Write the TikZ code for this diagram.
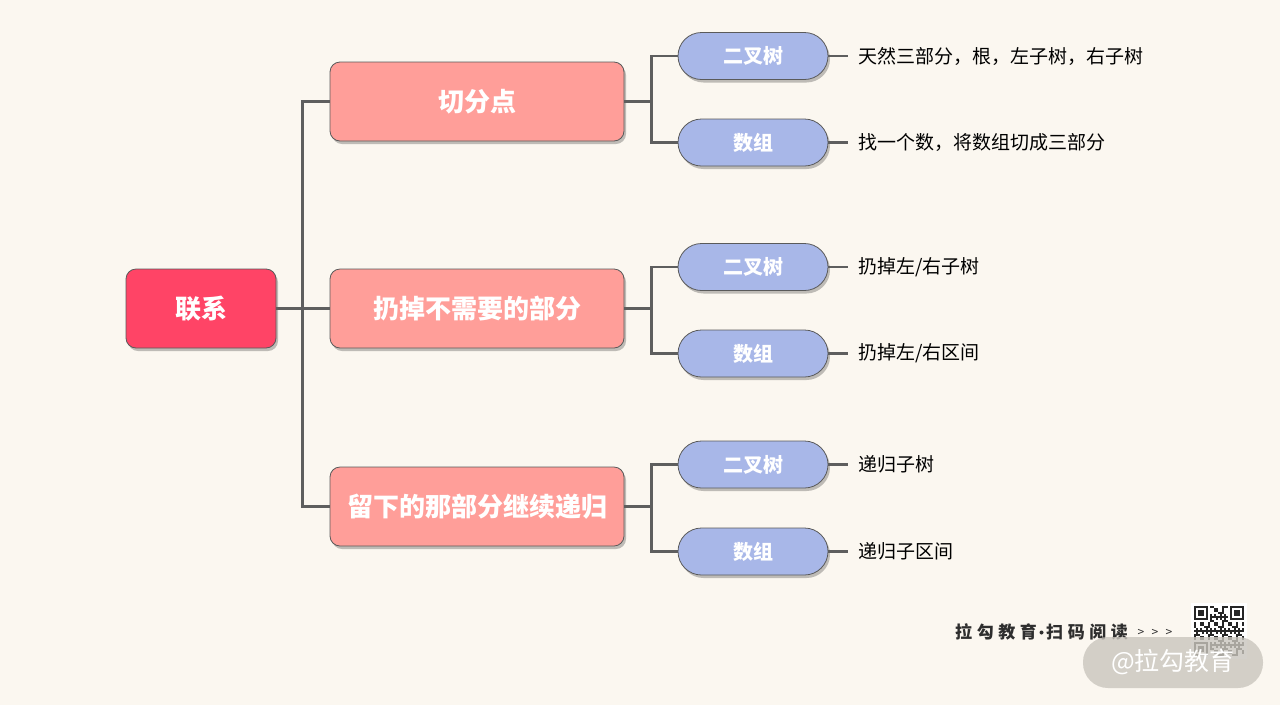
\documentclass[tikz,border=0pt]{standalone}
\usepackage{fontspec}
\setmainfont{Noto Sans CJK SC}
\usetikzlibrary{shadows}
\definecolor{bg}{HTML}{FBF7F0}
\definecolor{rootc}{HTML}{FF4466}
\definecolor{midc}{HTML}{FF9E99}
\definecolor{pillc}{HTML}{A8B7E8}
\definecolor{bordc}{HTML}{5A5A5A}
\definecolor{connc}{HTML}{5E5E5E}
\definecolor{wmgray}{HTML}{C9C5BD}
\definecolor{wmtext}{HTML}{2E2E2E}
\begin{document}
\begin{tikzpicture}[x=1pt,y=-1pt,
  box/.style={draw=bordc, line width=0.8pt, rounded corners=10pt, inner sep=0pt,
    drop shadow={shadow xshift=2pt,shadow yshift=-3pt,opacity=0.3,fill=black!80}},
  rootbox/.style={box, fill=rootc, minimum width=150pt, minimum height=79pt, text=white,
    font=\fontsize{26}{30}\selectfont\bfseries},
  midbox/.style={box, fill=midc, minimum width=294pt, minimum height=79pt, text=white,
    font=\fontsize{26}{30}\selectfont\bfseries},
  pill/.style={box, rounded corners=23.5pt, fill=pillc, minimum width=150pt, minimum height=47pt,
    text=white, font=\fontsize{20}{24}\selectfont\bfseries},
  leaf/.style={anchor=west, inner sep=0pt, text=black, font=\fontsize{19}{22}\selectfont},
  conn/.style={draw=connc, line width=2.6pt},
  wmt/.style={anchor=west, inner sep=0pt, text=wmtext,
    font=\fontsize{17}{20}\selectfont\bfseries\addfontfeature{LetterSpace=27}},
  wma/.style={inner sep=0pt, text=wmtext, font=\fontsize{12}{14}\selectfont},
  qrmod/.style={fill=black!85}
]
\fill[bg] (0,0) rectangle (1280,705);
\useasboundingbox (0,0) rectangle (1280,705);

% root and middle
\node[rootbox] (root) at (201,308.5) {联系};
\node[midbox] (m1) at (477,101.5) {切分点};
\node[midbox] (m2) at (477,308.5) {扔掉不需要的部分};
\node[midbox] (m3) at (477,506.5) {留下的那部分继续递归};

% pills
\node[pill] (p1) at (753,56) {二叉树};
\node[pill] (p2) at (753,142.5) {数组};
\node[pill] (p3) at (753,267) {二叉树};
\node[pill] (p4) at (753,353.5) {数组};
\node[pill] (p5) at (753,464.5) {二叉树};
\node[pill] (p6) at (753,551.5) {数组};

% leaf labels
\node[leaf] (l1) at (858,56) {天然三部分，根，左子树，右子树};
\node[leaf] (l2) at (858,142.5) {找一个数，将数组切成三部分};
\node[leaf] (l3) at (858,267) {扔掉左/右子树};
\node[leaf] (l4) at (858,353.5) {扔掉左/右区间};
\node[leaf] (l5) at (858,464.5) {递归子树};
\node[leaf] (l6) at (858,551.5) {递归子区间};

% connectors root -> middle
\draw[conn] (root.east) -- (m2.west);
\draw[conn] (m1.west) -- ++(-27,0) |- (m3.west);

% middle -> pills
\draw[conn] (m1.east) -- ++(28,0);
\draw[conn] (p1.west) -- ++(-26,0) |- (p2.west);
\draw[conn] (m2.east) -- ++(28,0);
\draw[conn] (p3.west) -- ++(-26,0) |- (p4.west);
\draw[conn] (m3.east) -- ++(28,0);
\draw[conn] (p5.west) -- ++(-26,0) |- (p6.west);

% pills -> leaves
\foreach \a/\b in {p1/l1,p2/l2,p3/l3,p4/l4,p5/l5,p6/l6}
  \draw[conn, shorten >=10pt] (\a.east) -- (\b.west);

% watermark
\node[wmt] (wm1) at (955,632) {拉勾教育};
\fill[wmtext] (1041.5,632.5) circle (2pt);
\node[wmt] (wm2) at (1046,632) {扫码阅读};
\node[wma] (a1) at (1141,633) {>};
\node[wma] (a2) at (1155,633) {>};
\node[wma] (a3) at (1169,633) {>};

% QR code (schematic)
\fill[white] (1191,603) rectangle (1247,659);
\begin{scope}[shift={(1194,606)}]
  \foreach \i in {0,...,24} {
    \foreach \j in {0,...,24} {
      \pgfmathtruncatemacro\v{mod(\i*\i*7+\j*\j*3+\i*\j*11+\i+5*\j,7)}
      \pgfmathtruncatemacro\inf{((\i<8)&&(\j<8)) || ((\i>16)&&(\j<8)) || ((\i<8)&&(\j>16))}
      \ifnum\inf=0 \ifnum\v<3 \fill[qrmod] (2*\i,2*\j) rectangle ++(2,2); \fi\fi
    }
  }
  \foreach \ox/\oy in {0/0,36/0,0/36} {
    \fill[qrmod] (\ox,\oy) rectangle ++(14,14);
    \fill[white] (\ox+2,\oy+2) rectangle ++(10,10);
    \fill[qrmod] (\ox+4,\oy+4) rectangle ++(6,6);
  }
\end{scope}

\node[fill=wmgray, fill opacity=0.8, text opacity=1, text=white, rounded corners=25pt,
  minimum width=180pt, minimum height=51pt, inner sep=0pt,
  font=\fontsize{25}{28}\selectfont] (wmpill) at (1173,662.5) {@拉勾教育};
\end{tikzpicture}
\end{document}
